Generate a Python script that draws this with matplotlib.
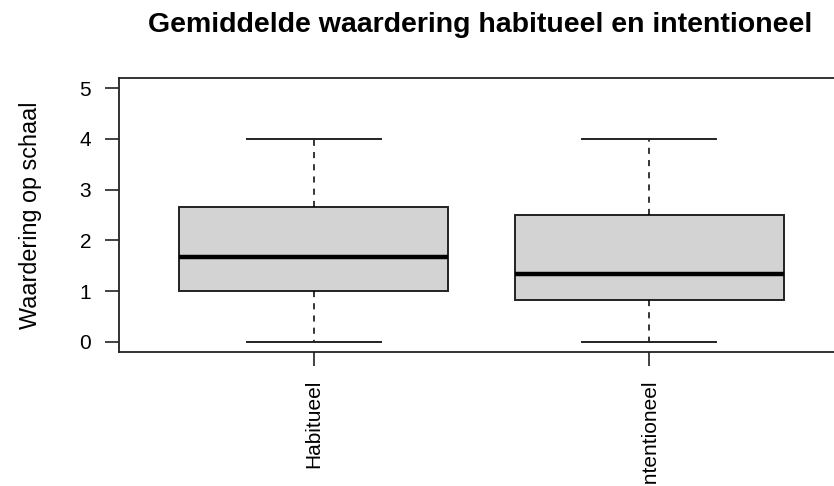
import matplotlib
matplotlib.use("Agg")
import matplotlib.pyplot as plt

plt.rcParams['font.family'] = ['Liberation Sans', 'DejaVu Sans']

categories = ["Habitueel", "Intentioneel"]
whis_low = [0.0, 0.0]
q1 = [1.0, 0.83]
median = [1.67, 1.33]
q3 = [2.65, 2.5]
whis_high = [4.0, 4.0]
yticks = [0, 1, 2, 3, 4, 5]

title = "Gemiddelde waardering habitueel en intentioneel"
ylabel = "Waardering op schaal"

W, H = 834, 486
fig = plt.figure(figsize=(W / 100, H / 100), dpi=100)
ax = fig.add_axes([119 / W, (H - 352) / H, (844 - 119) / W, (352 - 78) / H])

stats = []
for i, c in enumerate(categories):
    stats.append(dict(label=c, whislo=whis_low[i], q1=q1[i], med=median[i],
                      q3=q3[i], whishi=whis_high[i], fliers=[]))

ax.bxp(stats, positions=[1, 2], widths=0.8, patch_artist=True, showfliers=False,
       boxprops=dict(facecolor="#D3D3D3", edgecolor="#222222", linewidth=1.4),
       medianprops=dict(color="black", linewidth=3.2, solid_capstyle="butt"),
       whiskerprops=dict(color="black", linewidth=1.1, linestyle=(0, (4, 4))),
       capprops=dict(color="#222222", linewidth=1.4),
       capwidths=0.4)

ax.set_xlim(0.42, 2.58)
ax.set_ylim(-0.2, 5.2)
ax.set_yticks(yticks)
ax.set_yticklabels([str(t) for t in yticks])
ax.set_xticks([1, 2])
ax.set_xticklabels(categories, rotation=90)

for s in ax.spines.values():
    s.set_linewidth(1.3)
    s.set_color("#222222")
ax.tick_params(axis='both', length=10, width=1.2, color="#222222",
               labelsize=15, labelcolor="black")
ax.tick_params(axis='y', pad=10)
ax.tick_params(axis='x', pad=10)

ax.set_ylabel(ylabel, fontsize=16.8, va="center")
ax.yaxis.set_label_coords((30 - 119) / (844 - 119), 0.5)
fig.text(480 / W, 1 - 25 / H, title, ha="center", va="center",
         fontsize=20.5, fontweight="bold")

fig.savefig("out.png", dpi=100)
